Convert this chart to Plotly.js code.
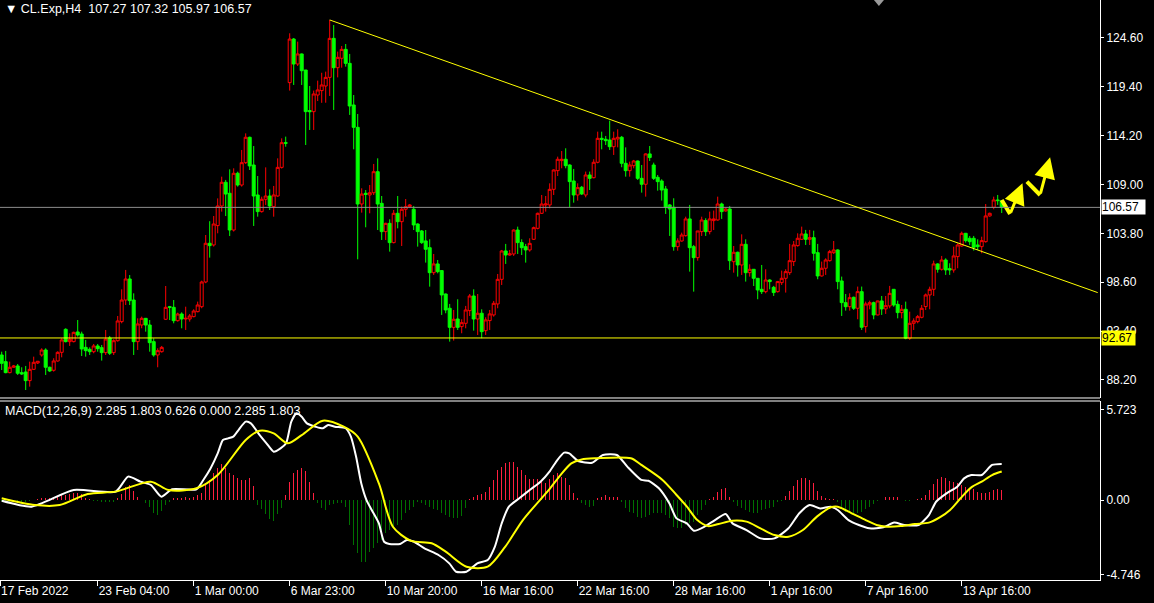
<!DOCTYPE html>
<html><head><meta charset="utf-8">
<script src="https://cdn.plot.ly/plotly-3.0.1.min.js"></script>
<style>html,body{margin:0;padding:0;background:#000;overflow:hidden}#chart{width:1154px;height:603px}</style>
</head><body><div id="chart"></div>
<script>
// ---- price data (H4 candles, bar index 0..250) ----
const openP = [90.86,90.15,88.98,89.55,89.69,88.98,89.05,88.13,89.33,90.01,90.86,91.39,89.55,89.23,90.22,91.14,93.59,92.28,92.28,93.31,93.09,91.67,91.46,91.21,91.82,91.64,91.11,92.67,91.11,92.38,94.41,96.71,98.95,96.71,92.28,94.05,94.76,94.05,92.28,90.86,91.21,94.66,96.00,95.93,94.51,95.22,94.69,94.69,94.94,95.47,96.00,98.63,102.75,102.57,104.63,106.72,109.24,108.07,104.16,110.20,108.95,111.33,114.03,111.08,107.89,106.12,107.43,107.78,106.65,107.78,110.83,113.46,119.85,124.49,121.83,122.90,121.19,116.87,116.76,118.53,119.00,119.49,120.41,124.56,121.44,122.44,123.39,121.90,117.47,115.09,106.93,108.07,107.89,108.13,110.37,107.00,103.99,104.87,102.82,105.94,105.05,106.37,106.65,106.37,104.80,104.06,103.00,102.28,99.62,100.55,99.84,97.35,95.83,93.80,94.69,93.88,94.23,95.58,97.14,94.69,95.30,93.45,94.52,95.12,96.29,98.91,101.93,101.50,101.61,104.16,102.82,102.39,102.04,103.17,104.34,105.94,106.83,106.83,108.49,110.48,111.55,111.69,111.08,109.38,107.89,108.71,107.89,110.02,109.73,111.37,113.92,113.82,113.74,113.03,113.85,114.03,111.26,110.48,111.01,111.51,109.66,109.03,112.26,111.08,109.77,109.38,108.53,106.83,106.58,102.39,102.99,103.56,105.34,102.39,101.22,103.99,105.16,103.99,105.16,105.23,106.93,106.19,106.40,100.79,101.79,100.44,102.64,99.62,99.98,99.02,97.85,97.60,98.84,98.06,97.60,98.56,99.02,99.62,100.80,102.50,103.17,103.74,103.17,103.35,101.75,99.27,100.09,100.90,101.75,102.04,98.74,96.43,96.00,97.00,95.83,97.60,93.88,96.19,96.43,95.12,96.61,95.76,96.08,97.85,96.25,95.37,95.72,92.64,94.23,94.41,94.87,96.01,97.25,97.85,100.55,99.98,100.97,100.05,99.91,101.33,102.46,103.81,103.28,103.28,102.57,102.39,102.92,105.66,106.58,107.36,107.27];
const highP = [91.21,91.29,90.15,89.80,89.90,89.55,89.69,90.15,90.68,90.22,91.57,91.57,89.62,90.51,91.25,92.63,93.70,93.16,93.34,94.58,93.34,92.46,91.67,92.03,92.03,91.92,93.52,92.88,92.53,95.01,97.85,99.91,99.37,97.42,94.76,94.94,94.80,94.58,92.63,91.57,91.82,98.20,96.08,96.71,95.36,95.40,96.00,95.22,95.72,96.54,98.77,103.63,105.10,105.65,107.53,109.84,109.49,110.62,110.73,110.37,112.68,114.45,114.10,113.10,109.91,107.71,110.83,108.49,108.85,111.79,113.92,114.10,125.10,124.60,124.21,122.95,121.20,119.49,119.00,120.06,120.90,121.02,126.52,125.98,123.15,123.75,123.96,122.90,118.53,116.51,108.60,108.42,108.95,111.19,111.79,107.78,104.94,105.30,106.29,107.78,106.65,107.46,106.93,106.72,104.87,104.16,104.16,103.17,101.61,100.97,99.90,97.40,96.29,95.65,96.79,94.66,96.08,97.35,97.85,97.35,95.72,94.87,95.65,96.61,99.48,102.04,102.68,102.04,104.23,104.52,103.17,102.68,103.28,104.52,106.01,107.89,107.78,109.13,110.62,111.97,112.57,112.86,111.15,110.66,109.13,108.85,110.38,110.38,111.69,114.63,114.63,114.17,115.80,114.63,114.88,114.17,112.96,111.44,111.62,111.55,111.08,112.33,113.10,111.33,110.02,109.56,108.85,106.93,107.54,103.28,103.88,105.58,106.83,102.57,104.06,105.58,105.41,106.12,106.23,107.71,107.07,106.47,106.72,102.46,101.86,103.70,103.17,100.51,100.00,99.05,100.44,99.98,98.92,98.21,98.74,99.84,99.98,102.68,102.99,103.81,104.52,104.17,104.17,104.09,102.68,100.80,101.15,102.04,102.99,102.11,99.20,97.35,97.42,97.07,98.14,98.14,96.54,96.64,96.54,96.64,97.14,97.14,98.21,97.85,96.64,96.18,96.54,95.47,94.76,95.12,96.18,97.40,98.13,100.90,100.62,101.40,101.15,100.62,102.39,102.75,103.99,103.85,103.53,103.53,103.17,103.45,106.93,106.01,107.71,107.89,107.32];
const lowP = [89.26,88.91,88.91,89.50,88.73,88.73,87.13,87.49,89.26,89.90,90.68,88.73,89.05,89.09,90.15,90.61,92.20,91.82,92.20,92.81,90.75,90.68,90.86,91.04,91.21,90.26,90.86,90.86,90.86,92.28,94.23,96.18,96.18,90.86,91.39,93.70,93.34,91.21,90.68,89.55,91.11,94.58,94.58,94.23,94.41,93.70,93.52,94.41,94.87,95.40,95.83,98.50,101.22,102.40,103.81,106.12,105.65,103.52,104.00,108.78,108.78,111.19,110.55,104.59,105.58,106.01,106.83,106.29,105.58,107.71,110.70,113.03,119.00,119.60,121.62,119.60,113.21,114.81,114.81,117.89,117.70,117.71,118.43,116.94,120.41,121.44,121.55,116.41,112.75,101.04,106.01,104.45,105.94,107.89,104.16,103.10,103.10,101.86,102.74,104.34,102.46,105.58,106.58,104.16,102.39,102.68,100.69,98.13,99.38,99.55,95.12,95.30,92.28,92.39,93.52,93.17,93.70,95.01,93.45,92.99,92.64,92.99,93.52,94.94,95.83,98.31,100.55,101.43,101.40,101.61,101.50,100.69,101.86,103.10,104.23,105.87,106.12,106.47,107.89,109.91,110.73,110.73,106.58,107.07,107.29,107.89,107.64,108.42,109.66,111.26,112.75,113.21,112.68,112.15,112.96,110.84,109.84,109.84,110.73,109.49,108.14,107.71,111.51,109.49,108.35,107.29,105.87,103.53,101.96,101.96,102.92,103.46,99.73,97.60,100.90,103.53,103.53,103.70,104.16,105.16,105.34,106.12,99.91,99.62,99.20,99.38,98.67,99.20,98.20,96.79,97.35,97.42,97.85,97.14,97.50,98.31,97.50,99.38,100.33,102.39,103.10,102.57,102.57,100.90,98.92,99.20,99.38,100.80,101.61,97.85,95.01,95.58,95.58,95.65,94.66,93.52,93.24,95.72,94.66,95.08,95.12,95.23,95.83,96.00,94.76,94.76,92.53,92.46,93.52,94.23,94.76,95.65,95.72,97.14,99.62,99.84,99.38,99.38,99.62,100.09,102.39,102.82,102.57,101.97,102.04,101.68,102.82,105.58,106.37,106.83,105.97];
const closeP = [89.97,88.98,89.55,89.69,88.91,88.84,88.13,89.33,90.08,90.19,91.39,89.55,89.16,90.22,91.14,92.46,92.28,92.53,93.27,92.99,91.50,91.32,91.21,91.82,91.53,91.11,92.56,91.04,92.38,94.48,96.71,98.95,96.64,92.28,94.16,94.76,94.05,92.17,90.86,91.32,91.67,95.93,95.93,94.51,95.22,94.69,94.76,95.01,95.54,96.18,98.63,102.75,102.50,104.80,106.72,109.24,107.99,104.16,110.20,108.95,111.33,114.03,110.98,107.78,106.12,107.43,107.78,106.72,107.89,110.83,113.46,113.40,124.49,121.83,122.90,121.12,116.76,116.76,118.64,119.07,119.60,120.41,124.56,121.44,122.54,123.39,121.90,117.36,115.09,106.93,107.99,107.96,108.13,110.37,106.93,103.99,104.87,102.82,105.94,105.05,106.37,106.65,106.83,104.70,103.99,102.82,102.11,99.62,100.55,99.73,97.25,95.65,93.80,94.66,93.80,94.30,95.65,97.14,94.69,95.30,93.34,94.59,95.23,96.36,98.91,101.93,101.50,101.61,104.16,102.82,102.28,102.04,102.74,104.41,105.94,106.93,106.93,108.49,110.55,111.69,111.69,111.01,109.31,107.89,108.67,108.00,110.02,109.66,111.37,113.92,113.82,113.67,113.03,113.92,114.03,111.26,110.48,111.08,111.51,109.66,109.03,112.26,111.87,109.66,109.31,108.42,106.58,106.40,102.39,102.99,103.63,105.34,102.28,101.22,104.06,105.23,103.99,105.34,105.34,106.93,106.12,106.40,100.90,101.79,100.44,102.64,99.62,99.98,99.02,97.78,97.60,98.84,98.67,97.50,98.67,99.02,99.73,100.90,102.57,103.28,103.74,103.17,103.35,101.68,99.27,100.09,100.97,101.86,102.04,98.67,96.43,96.00,96.96,95.83,97.60,93.81,96.29,96.43,95.12,96.61,95.76,96.11,97.42,96.18,95.37,95.72,92.64,94.23,94.48,94.94,95.83,97.25,97.85,100.55,99.98,100.97,99.91,99.91,101.40,102.57,103.81,103.03,102.92,102.32,102.39,103.03,105.66,105.94,107.36,107.29,106.57];

// ---- MACD(12,26,9) ----
const macdHist = [-0.08,-0.1,-0.12,-0.15,-0.17,-0.15,-0.12,-0.08,0.02,0.08,0.15,0.15,0.15,0.17,0.25,0.3,0.32,0.4,0.42,0.42,0.38,0.15,0.05,-0.05,-0.08,-0.12,-0.1,-0.15,-0.1,0.1,0.4,0.8,0.95,0.6,0.2,0.0,-0.2,-0.45,-0.85,-0.95,-0.7,-0.3,-0.1,0.1,0.15,0.15,0.2,0.15,0.2,0.3,0.42,1.05,1.27,1.69,2.0,2.3,2.0,1.7,1.58,1.37,1.27,1.27,1.37,0.89,-0.3,-0.6,-0.9,-1.2,-1.3,-0.9,-0.5,0.3,1.16,1.73,1.9,2.0,1.84,1.16,0.42,-0.21,-0.53,-0.63,-0.32,-0.25,-0.21,-0.2,-0.42,-1.58,-2.85,-3.38,-3.9,-3.9,-3.27,-3.06,-2.74,-2.53,-2.11,-1.9,-1.69,-1.58,-1.27,-0.84,-0.63,-0.42,-0.11,-0.21,-0.3,-0.42,-0.55,-0.63,-0.8,-0.95,-1.05,-1.16,-1.16,-1.0,-0.53,0.05,0.21,0.32,0.4,0.53,0.8,1.27,1.9,2.11,2.32,2.43,2.43,2.11,1.9,1.6,1.35,1.3,1.3,1.2,1.05,1.3,1.58,1.73,1.43,1.37,0.95,0.42,0.11,-0.21,-0.32,-0.42,-0.38,0.1,0.21,0.32,0.21,0.21,0.17,-0.11,-0.53,-0.74,-0.84,-1.05,-1.16,-1.05,-0.95,-0.84,-0.84,-0.84,-0.95,-1.16,-1.69,-1.79,-1.79,-1.58,-1.43,-1.37,-0.95,-0.63,-0.32,0.05,0.21,0.53,0.68,0.74,0.17,-0.11,-0.38,-0.53,-0.63,-0.74,-0.84,-0.84,-0.63,-0.59,-0.53,-0.42,-0.11,-0.04,0.25,0.59,0.89,1.27,1.37,1.37,1.27,1.1,0.59,0.25,0.11,0.06,0.06,-0.11,-0.42,-0.74,-0.8,-0.84,-0.84,-0.74,-0.59,-0.42,-0.25,-0.04,-0.02,0.17,0.21,0.21,0.17,-0.02,-0.04,-0.06,-0.02,0.04,0.11,0.32,0.63,1.0,1.31,1.43,1.37,1.22,1.16,1.05,0.95,0.8,0.74,0.68,0.53,0.46,0.42,0.53,0.63,0.68,0.626];
const macdBar = [0,7.5,18,28.5,31.6,34.7,37.3,39.9,42.6,48.7,50.4,52.2,54,55.3,56.6,57.9,59.2,61,62.3,64.5,66.2,68,69.7,71.1,72.4,73.7,75,76.3,78.5,80.3,81.6,83.3,86,87.3,88.6,89.9,91.2,92.5,94.3,95.6,96.9,99.6,101.3,103.1,105.7,109.2,111.9,113.6,116.2,118.9,121.5,123.3,125,126.8,129.4,132,134.7,137.1,138.9,140.6,141.9,144.1,147.6,150.3,153.8,156.4,159.9,161.7,164.3,166.9,168.7,171.3,173.1,175.7,178.3,181,182.7,186.2,189.7,193.2,196.7,199.4,202,204.6,207.3,209,211.7,214.3,216.9,220.4,223.1,225.7,229.2,231.8,233.6,236.2,238.9,240.6,242.4,245,247.6,250];
const macdLine = [-0.05,-0.42,0.63,0.53,1.48,1.16,0.95,0.21,0.68,0.68,1.27,2.0,2.95,3.8,3.9,4.01,4.43,4.96,4.85,4.11,3.59,3.06,3.27,3.59,4.96,5.49,5.27,4.85,4.64,4.54,4.75,4.64,4.54,4.01,2.74,1.05,0.0,-0.63,-1.48,-2.64,-2.78,-2.78,-2.53,-2.64,-3.06,-3.48,-4.01,-4.54,-4.54,-4.01,-3.8,-2.95,-1.48,-0.42,0.11,0.63,1.16,1.85,2.53,3.0,2.95,2.47,2.36,2.85,2.85,2.11,1.27,1.22,0.74,-0.21,-1.16,-1.48,-1.95,-1.69,-1.27,-0.89,-1.48,-1.9,-2.43,-2.43,-1.79,-0.84,-0.32,-0.53,-0.42,-0.63,-1.27,-1.58,-1.79,-1.73,-1.43,-1.58,-1.58,-0.95,-0.11,0.42,0.84,1.37,1.58,1.58,2.22,2.285];
const signalBar = [0,8.3,14.5,21.5,28.5,37.3,41.7,48.7,54,61,64.5,68,71.5,75,80.3,85.5,89,94.3,97.8,102.2,107.5,111,116.2,121.5,125.9,130.3,137.1,139.7,142.4,145,148.5,157.3,159.9,165.2,168.7,171.3,173.9,176.6,179.2,182.7,186.2,189.7,193.2,196.7,200.3,203.8,207.3,209,212.5,216,218.7,221.3,224.8,228.3,231.8,234.5,237.1,239.7,242.4,245,247.6,250];
const signalLine = [0.11,-0.32,-0.32,0.38,0.53,1.16,0.63,0.74,1.58,3.8,4.39,4.22,3.59,4.11,5.02,4.64,4.01,1.05,-1.69,-2.57,-2.74,-3.27,-4.22,-4.22,-2.95,-1.27,0.74,1.58,2.32,2.57,2.64,2.64,2.22,1.27,0.32,-0.42,-1.27,-1.65,-1.52,-1.31,-1.37,-1.79,-2.22,-2.32,-1.9,-1.05,-0.46,-0.42,-0.84,-1.27,-1.58,-1.69,-1.65,-1.52,-1.43,-1.1,-0.63,0.11,0.8,1.16,1.58,1.803];

// ---- axes / annotations text ----
const dateTickBars = [-0.4,24,48,72,96,120,144,168,192,216,240];
const dateTickLabels = ["17 Feb 2022","23 Feb 04:00","1 Mar 00:00","6 Mar 23:00","10 Mar 20:00","16 Mar 16:00","22 Mar 16:00","28 Mar 16:00","1 Apr 16:00","7 Apr 16:00","13 Apr 16:00"];
const priceTicks = [124.60,119.40,114.20,109.00,103.80,98.60,93.40,88.20];
const macdTicks = [5.723,0,-4.746];
const macdTickLabels = ["5.723","0.00","-4.746"];
const bidPrice = 106.57;
const supportPrice = 92.67;
const trendFrom = [82,126.52];
const trendTo = [274,97.5];
const arrowA = [[250,107.36],[252.1,105.87],[255.2,109.13]];
const arrowB = [[256.3,109.31],[259.6,107.89],[262.1,111.9]];
const headerText = "CL.Exp,H4\u00a0\u00a0107.27 107.32 105.97 106.57";
const macdText = "MACD(12,26,9) 2.285 1.803 0.626 0.000 2.285 1.803";

const bars = openP.map((_, i) => i);
const FONT = 'Liberation Sans, Arial, sans-serif';
const YEL = '#ffff00';

const traces = [
  {type:'candlestick', x:bars, open:openP, high:highP, low:lowP, close:closeP, xaxis:'x', yaxis:'y',
   increasing:{line:{color:'#ff0000',width:1}, fillcolor:'#000000'},
   decreasing:{line:{color:'#00ff00',width:1}, fillcolor:'#00ff00'},
   whiskerwidth:0, hoverinfo:'skip'},
  {type:'bar', x:bars, y:macdHist, xaxis:'x', yaxis:'y2', width:0.3,
   marker:{color:macdHist.map(v => v >= 0 ? '#ff1f3f' : '#007000'), line:{width:0}}, hoverinfo:'skip'},
  {type:'scatter', mode:'lines', x:macdBar, y:macdLine, xaxis:'x', yaxis:'y2',
   line:{color:'#ffffff', width:2, shape:'spline', smoothing:0.6}, hoverinfo:'skip'},
  {type:'scatter', mode:'lines', x:signalBar, y:signalLine, xaxis:'x', yaxis:'y2',
   line:{color:YEL, width:2, shape:'spline', smoothing:0.8}, hoverinfo:'skip'},
  {type:'scatter', mode:'lines', x:arrowA.slice(0,2).map(p=>p[0]), y:arrowA.slice(0,2).map(p=>p[1]),
   xaxis:'x', yaxis:'y', line:{color:YEL, width:4}, hoverinfo:'skip'},
  {type:'scatter', mode:'lines', x:arrowB.slice(0,2).map(p=>p[0]), y:arrowB.slice(0,2).map(p=>p[1]),
   xaxis:'x', yaxis:'y', line:{color:YEL, width:4}, hoverinfo:'skip'}
];

const annotations = [
  {xref:'paper', yref:'paper', x:0, y:1, xanchor:'left', yanchor:'top', xshift:3, yshift:0,
   text:'\u25BC\u00a0' + headerText, showarrow:false, font:{family:FONT, size:12.5, color:'#ffffff'}},
  {xref:'paper', yref:'paper', x:0, y:0.3086, xanchor:'left', yanchor:'top', xshift:3, yshift:-1,
   text:macdText, showarrow:false, font:{family:FONT, size:12.5, color:'#ffffff'}},
  {xref:'paper', yref:'y', x:1, y:bidPrice, xanchor:'left', yanchor:'middle', xshift:1,
   text:bidPrice.toFixed(2)+'\u00a0\u00a0', showarrow:false, bgcolor:'#ffffff', borderpad:0,
   font:{family:FONT, size:12, color:'#000000'}},
  {xref:'paper', yref:'y', x:1, y:supportPrice, xanchor:'left', yanchor:'middle', xshift:1,
   text:supportPrice.toFixed(2)+'\u00a0', showarrow:false, bgcolor:YEL, borderpad:0,
   font:{family:FONT, size:12, color:'#000000'}},
  {xref:'x', yref:'y', axref:'x', ayref:'y', x:arrowA[2][0], y:arrowA[2][1], ax:arrowA[1][0], ay:arrowA[1][1],
   showarrow:true, arrowhead:2, arrowsize:1.4, arrowwidth:3, arrowcolor:YEL, text:''},
  {xref:'x', yref:'y', axref:'x', ayref:'y', x:arrowB[2][0], y:arrowB[2][1], ax:arrowB[1][0], ay:arrowB[1][1],
   showarrow:true, arrowhead:2, arrowsize:1.4, arrowwidth:3, arrowcolor:YEL, text:''}
];

const shapes = [
  {type:'line', xref:'paper', yref:'y', x0:0, x1:1, y0:bidPrice, y1:bidPrice, line:{color:'#8c8c8c', width:1}},
  {type:'line', xref:'paper', yref:'y', x0:0, x1:1, y0:supportPrice, y1:supportPrice, line:{color:YEL, width:1}},
  {type:'line', xref:'x', yref:'y', x0:trendFrom[0], y0:trendFrom[1], x1:trendTo[0], y1:trendTo[1], line:{color:YEL, width:1}},
  {type:'line', xref:'paper', yref:'paper', x0:0, x1:1, y0:0.3086, y1:0.3086, line:{color:'#ffffff', width:1}},
  {type:'line', xref:'paper', yref:'paper', x0:0, x1:1, y0:0.3138, y1:0.3138, line:{color:'#ffffff', width:1}},
  {type:'path', xref:'paper', yref:'paper', path:'M 0.7945 1 L 0.8036 1 L 0.799 0.9897 Z', fillcolor:'#9a9a9a', line:{width:0}}
];

const axisFont = {family:FONT, size:12, color:'#ffffff'};
const layout = {
  width:1154, height:603, paper_bgcolor:'#000000', plot_bgcolor:'#000000',
  margin:{l:0, r:54, t:0, b:23}, showlegend:false, hovermode:false,
  boxgap:0.25, boxgroupgap:0, bargap:0,
  xaxis:{range:[-0.425, 274.575], anchor:'y2', tickmode:'array', tickvals:dateTickBars, ticktext:dateTickLabels,
         ticks:'outside', ticklen:5, tickcolor:'#ffffff', ticklabelposition:'outside right',
         tickfont:axisFont, showgrid:false, zeroline:false, showline:true, linecolor:'#ffffff',
         rangeslider:{visible:false}, fixedrange:true},
  yaxis:{domain:[0.3138, 1], range:[86.28, 128.644], side:'right', anchor:'x', tickmode:'array',
         tickvals:priceTicks, ticktext:priceTicks.map(v=>v.toFixed(2)), ticks:'outside', ticklen:3,
         tickcolor:'#ffffff', tickfont:axisFont, showline:true, linecolor:'#ffffff', showgrid:false,
         zeroline:false, fixedrange:true},
  yaxis2:{domain:[0, 0.3086], range:[-5.063, 6.266], side:'right', anchor:'x', tickmode:'array',
          tickvals:macdTicks, ticktext:macdTickLabels, ticks:'outside', ticklen:3, tickcolor:'#ffffff',
          tickfont:axisFont, showline:true, linecolor:'#ffffff', showgrid:false, zeroline:false, fixedrange:true},
  annotations:annotations, shapes:shapes
};

Plotly.newPlot('chart', traces, layout, {staticPlot:true, displayModeBar:false});
</script>
</body></html>
